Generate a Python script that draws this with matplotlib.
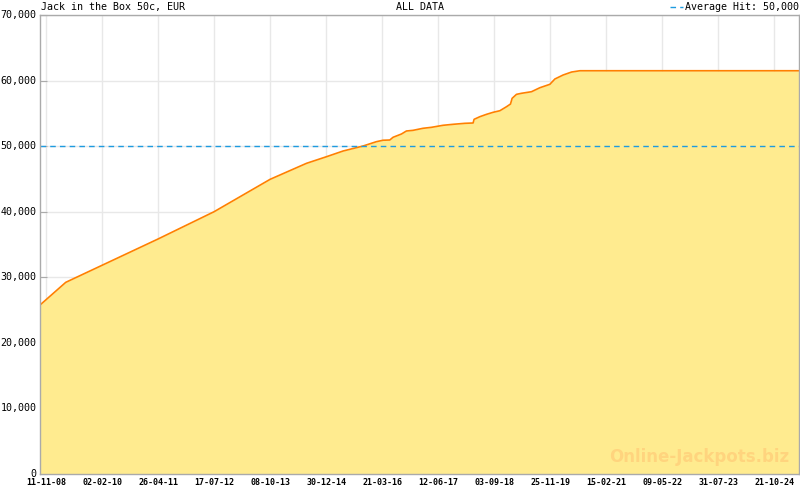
import matplotlib
matplotlib.use("Agg")
import matplotlib.pyplot as plt
import matplotlib.dates as mdates
import numpy as np
import pandas as pd
from matplotlib.lines import Line2D
from matplotlib.ticker import FuncFormatter, FixedLocator

dates = ["2008-09-24", "2009-04-18", "2011-04-26", "2012-07-17", "2013-10-08",
         "2014-07-26", "2015-01-02", "2015-05-15", "2015-10-21", "2016-02-05",
         "2016-03-29", "2016-05-22", "2016-06-17", "2016-08-23", "2016-10-02",
         "2016-11-24", "2017-02-11", "2017-04-20", "2017-07-22", "2017-10-10",
         "2018-01-12", "2018-03-19", "2018-03-27", "2018-05-12", "2018-07-04",
         "2018-08-26", "2018-10-19", "2018-12-11", "2019-01-12", "2019-01-25",
         "2019-03-01", "2019-04-10", "2019-06-29", "2019-09-04", "2019-11-23",
         "2020-01-02", "2020-03-08", "2020-05-14", "2020-07-20", "2025-05-07"]
values = [25770, 29230, 35840, 40000, 44940,
          47380, 48390, 49260, 50020, 50680,
          50900, 50935, 51350, 51850, 52310,
          52410, 52720, 52870, 53180, 53330,
          53480, 53530, 54090, 54490, 54850,
          55160, 55400, 56010, 56420, 57290,
          57900, 58060, 58300, 58910, 59430,
          60240, 60850, 61300, 61500, 61500]
tick_dates = ["2008-11-11", "2010-02-02", "2011-04-26", "2012-07-17", "2013-10-08",
              "2014-12-30", "2016-03-21", "2017-06-12", "2018-09-03", "2019-11-25",
              "2021-02-15", "2022-05-09", "2023-07-31", "2024-10-21"]
average_hit = 50000
title_left = "Jack in the Box 50c, EUR"
title_center = "ALL DATA"
legend_label = "Average Hit: 50,000"
watermark = "Online-Jackpots.biz"

x = pd.to_datetime(dates)
xmin, xmax = pd.Timestamp("2008-09-24"), pd.Timestamp("2025-05-07")

fig = plt.figure(figsize=(8, 4.9), dpi=100)
ax = fig.add_axes([40/800, (490-474)/490, 759/800, (474-15)/490])

ax.fill_between(x, values, 0, color="#FFEB8F", linewidth=0, zorder=2)
ax.plot(x, values, color="#FF8000", linewidth=1.2, zorder=3)
ax.axhline(average_hit, color="#1E9BE0", linewidth=1, dashes=(4, 3), zorder=4)

ax.set_xlim(xmin, xmax)
ax.set_ylim(0, 70000)

major = mdates.date2num(pd.to_datetime(tick_dates))
step = (major[-1] - major[0]) / (len(major) - 1) / 7
lo, hi = mdates.date2num(xmin), mdates.date2num(xmax)
k0 = int(np.floor((lo - major[0]) / step))
k1 = int(np.ceil((hi - major[0]) / step))
minor = [major[0] + k * step for k in range(k0, k1 + 1)]
ax.xaxis.set_major_locator(FixedLocator(major))
ax.xaxis.set_minor_locator(FixedLocator(minor))
ax.xaxis.set_major_formatter(mdates.DateFormatter("%d-%m-%y"))
ax.set_yticks(range(0, 70001, 10000))
ax.yaxis.set_major_formatter(FuncFormatter(lambda v, p: f"{int(v):,}"))

ax.grid(True, which="major", color="#E8E8E8", linewidth=1, zorder=1)
ax.set_axisbelow(True)
for s in ax.spines.values():
    s.set_color("#AAAAAA")
    s.set_linewidth(1)
    s.set_zorder(5)

ax.tick_params(axis="x", which="major", direction="in", length=6, color="#AAAAAA",
               labelsize=6, pad=3)
ax.tick_params(axis="x", which="minor", direction="in", length=3, color="#AAAAAA")
ax.tick_params(axis="y", direction="in", length=5, color="#AAAAAA", labelsize=7.2, pad=2.5)
for lab in ax.get_xticklabels():
    lab.set_fontfamily("DejaVu Sans Mono")
    lab.set_fontweight("bold")
for lab in ax.get_yticklabels():
    lab.set_fontfamily("DejaVu Sans Mono")
    lab.set_verticalalignment("center")

fig.text(41/800, 1 - 7/490, title_left, ha="left", va="center",
         fontsize=7.2, family="DejaVu Sans Mono")
fig.text(420/800, 1 - 7/490, title_center, ha="center", va="center",
         fontsize=7.2, family="DejaVu Sans Mono")
fig.text(799/800, 1 - 7/490, legend_label, ha="right", va="center",
         fontsize=7.2, family="DejaVu Sans Mono")
fig.add_artist(Line2D([670/800, 683/800], [1 - 7/490, 1 - 7/490], color="#1E9BE0",
                      linewidth=1, dashes=(4, 3), transform=fig.transFigure))

ax.text((789 - 40) / 759, 12 / 459, watermark, transform=ax.transAxes, ha="right",
        va="baseline", fontsize=12, fontweight="bold", color="#FFD47E", zorder=6,
        family="DejaVu Sans")

fig.savefig("out.png", dpi=100)
